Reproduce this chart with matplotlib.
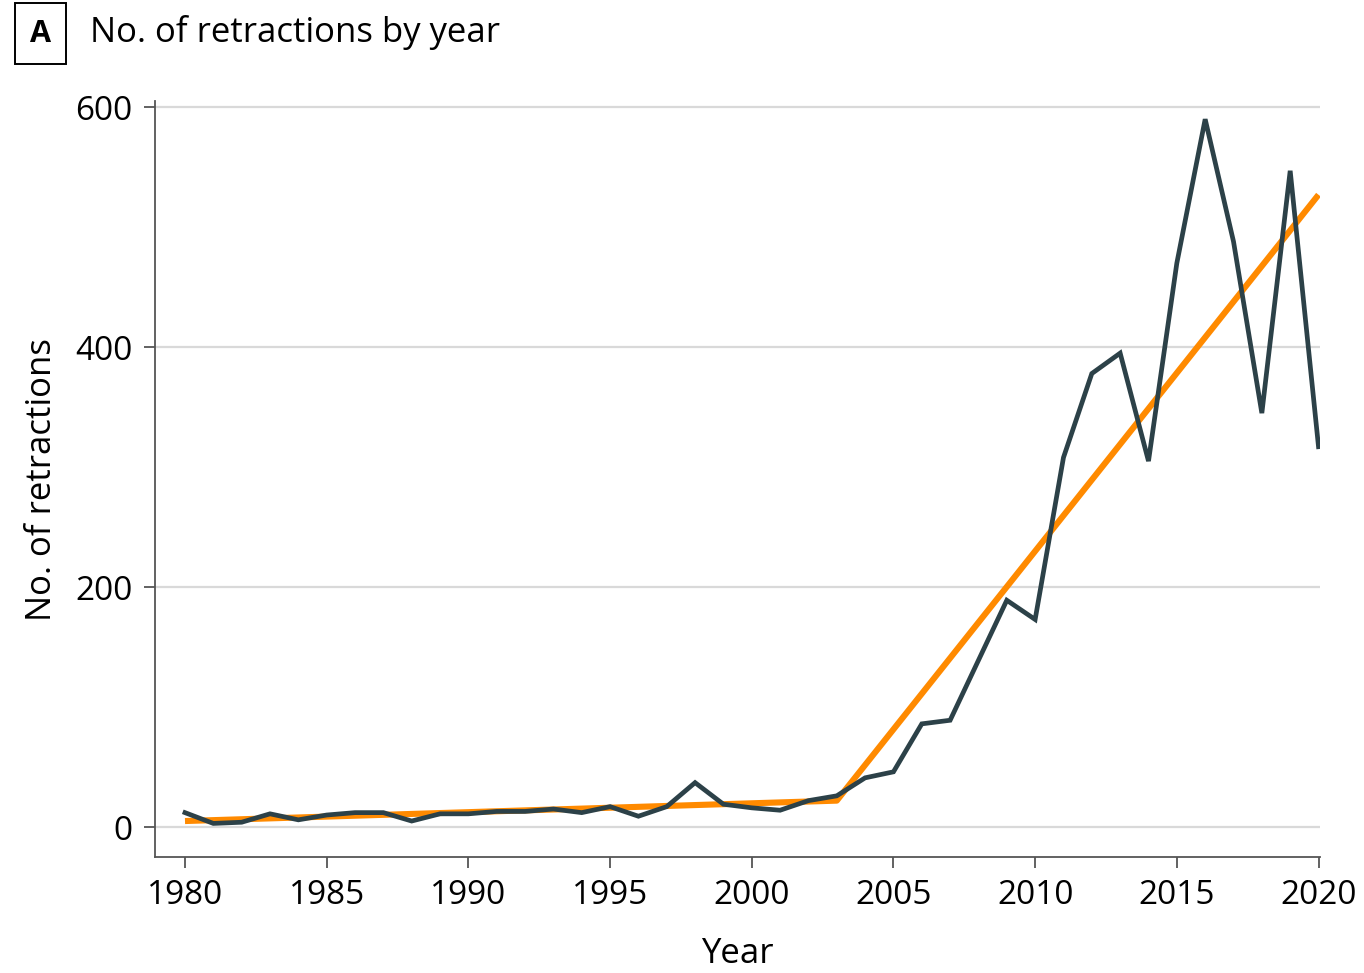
import matplotlib.pyplot as plt
from matplotlib import font_manager

# --- data ---
years = list(range(1980, 2021))
retractions = [12, 3, 4, 11, 6, 10, 12, 12, 5, 11,
               11, 13, 13, 15, 12, 17, 9, 17, 37, 19,
               16, 14, 22, 26, 41, 46, 86, 89, 139, 189,
               173, 308, 378, 395, 305, 470, 590, 488, 345, 547,
               317]

trend_years = [1980, 2003, 2020]
trend_vals = [5, 22, 527]

names = {f.name for f in font_manager.fontManager.ttflist}
fam = "Liberation Sans Narrow" if "Liberation Sans Narrow" in names else "Open Sans"
plt.rcParams['font.family'] = [fam, 'DejaVu Sans']

fig = plt.figure(figsize=(13.64, 9.73), dpi=100)
ax = fig.add_axes([0.1136, 0.1192, 0.8541, 0.7768])

ax.plot(trend_years, trend_vals, color='#ff8a00', lw=4.4, solid_capstyle='butt', zorder=3)
ax.plot(years, retractions, color='#2c4148', lw=3.4, solid_joinstyle='miter', zorder=4)

ax.set_xlim(1978.94, 2020.05)
ax.set_ylim(-25, 605)
ax.set_xticks(range(1980, 2021, 5))
ax.set_yticks([0, 200, 400, 600])
ax.yaxis.grid(True, color='#d9d9d9', lw=1.6)
ax.set_axisbelow(True)

for s in ['top', 'right']:
    ax.spines[s].set_visible(False)
for s in ['left', 'bottom']:
    ax.spines[s].set_color('#555555')
    ax.spines[s].set_linewidth(1.3)
ax.tick_params(axis='both', colors='#555555', width=1.3, length=8, labelsize=24,
               labelcolor='black', pad=8)

ax.set_xlabel('Year', fontsize=25, labelpad=18)
ax.set_ylabel('No. of retractions', fontsize=25, labelpad=12)

fig.text(0.0298, 0.9655, 'A', fontsize=22, fontweight='bold', ha='center', va='center',
         bbox=dict(boxstyle='square,pad=0.5', fc='white', ec='black', lw=1.4))
fig.text(0.066, 0.967, 'No. of retractions by year', fontsize=25, ha='left', va='center')

fig.savefig('out.png', dpi=100)
